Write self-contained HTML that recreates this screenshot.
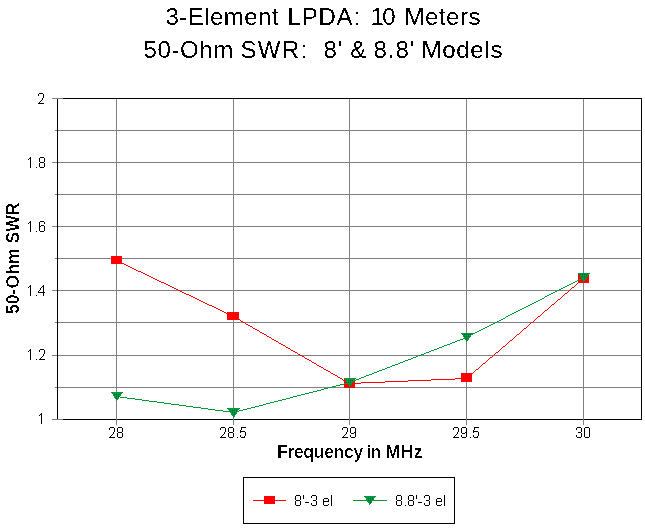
<!DOCTYPE html>
<html>
<head>
<meta charset="utf-8">
<title>3-Element LPDA: 10 Meters - 50-Ohm SWR</title>
<style>
  html, body { margin: 0; padding: 0; background: #ffffff; }
  body { width: 645px; height: 528px; overflow: hidden; position: relative;
         font-family: "Liberation Sans", sans-serif; }
  svg { position: absolute; left: 0; top: 0; display: block; }
  text { font-family: "Liberation Sans", sans-serif; fill: #000000; white-space: pre; }
  .title { font-size: 24px; }
  .axis  { font-size: 17.6px; font-weight: bold; }
  .tick  { font-size: 15px; letter-spacing: -0.3px; }
  .tick text { fill: none; }
</style>
</head>
<body>
<svg width="645" height="528" viewBox="0 0 645 528">
  <defs>
    <filter id="bin" x="0" y="0" width="645" height="528" filterUnits="userSpaceOnUse" color-interpolation-filters="sRGB">
      <feComponentTransfer><feFuncA type="discrete" tableValues="0 1"/></feComponentTransfer>
    </filter>
    <filter id="binb" x="0" y="0" width="645" height="528" filterUnits="userSpaceOnUse" color-interpolation-filters="sRGB">
      <feComponentTransfer><feFuncA type="discrete" tableValues="0 0 0 0 0 0 0 0 0 0 0 0 0 1 1 1 1 1 1 1"/></feComponentTransfer>
    </filter>
    <pattern id="dith" x="0" y="0" width="2" height="2" patternUnits="userSpaceOnUse">
      <rect x="0" y="0" width="2" height="2" fill="#008a3c"/>
      <rect x="0" y="0" width="1" height="1" fill="#006a38"/>
      <rect x="1" y="1" width="1" height="1" fill="#00a068"/>
    </pattern>
  </defs>
  <rect x="0" y="0" width="645" height="528" fill="#ffffff"/>

  <!-- titles -->

  <!-- grid + frame -->
  <g shape-rendering="crispEdges" fill="none" stroke-width="1">
    <!-- horizontal grid lines (with tick stubs to the left) -->
    <g stroke="#808080">
      <line x1="52" y1="98.5"  x2="641" y2="98.5"/>
      <line x1="55" y1="130.5" x2="641" y2="130.5"/>
      <line x1="52" y1="162.5" x2="641" y2="162.5"/>
      <line x1="55" y1="194.5" x2="641" y2="194.5"/>
      <line x1="52" y1="226.5" x2="641" y2="226.5"/>
      <line x1="55" y1="258.5" x2="641" y2="258.5"/>
      <line x1="52" y1="290.5" x2="641" y2="290.5"/>
      <line x1="55" y1="322.5" x2="641" y2="322.5"/>
      <line x1="52" y1="355.5" x2="641" y2="355.5"/>
      <line x1="55" y1="387.5" x2="641" y2="387.5"/>
      <line x1="52" y1="419.5" x2="641" y2="419.5"/>
      <!-- vertical grid lines (with tick stubs below) -->
      <line x1="116.5" y1="98" x2="116.5" y2="425"/>
      <line x1="233.5" y1="98" x2="233.5" y2="425"/>
      <line x1="349.5" y1="98" x2="349.5" y2="425"/>
      <line x1="466.5" y1="98" x2="466.5" y2="425"/>
      <line x1="583.5" y1="98" x2="583.5" y2="425"/>
    </g>
    <!-- black frame -->
    <g stroke="#000000">
      <line x1="63" y1="98.5" x2="642" y2="98.5"/>
      <line x1="63" y1="419.5" x2="642" y2="419.5"/>
      <line x1="57.5" y1="99" x2="57.5" y2="419"/>
      <line x1="641.5" y1="98" x2="641.5" y2="420"/>
    </g>
    <!-- re-draw grey crossings on frame -->
    <g stroke="#808080">
      <line x1="116.5" y1="419" x2="116.5" y2="425"/>
      <line x1="233.5" y1="419" x2="233.5" y2="425"/>
      <line x1="349.5" y1="419" x2="349.5" y2="425"/>
      <line x1="466.5" y1="419" x2="466.5" y2="425"/>
      <line x1="583.5" y1="419" x2="583.5" y2="425"/>
    </g>
  </g>

  <!-- y tick labels -->

  <!-- x tick labels -->

  <!-- axis titles -->

  <!-- data series -->
  <g shape-rendering="crispEdges">
    <!-- red series -->
    <path fill="none" stroke="#ff0000" stroke-width="1" d="M116 260.5h2M118 261.5h2M120 262.5h2M122 263.5h2M124 264.5h2M126 265.5h2M128 266.5h2M130 267.5h2M132 268.5h2M134 269.5h2M136 270.5h2M138 271.5h3M141 272.5h2M143 273.5h2M145 274.5h2M147 275.5h2M149 276.5h2M151 277.5h2M153 278.5h2M155 279.5h2M157 280.5h2M159 281.5h2M161 282.5h3M164 283.5h2M166 284.5h2M168 285.5h2M170 286.5h2M172 287.5h2M174 288.5h2M176 289.5h2M178 290.5h2M180 291.5h2M182 292.5h2M184 293.5h2M186 294.5h3M189 295.5h2M191 296.5h2M193 297.5h2M195 298.5h2M197 299.5h2M199 300.5h2M201 301.5h2M203 302.5h2M205 303.5h2M207 304.5h2M209 305.5h3M212 306.5h2M214 307.5h2M216 308.5h2M218 309.5h2M220 310.5h2M222 311.5h2M224 312.5h2M226 313.5h2M228 314.5h2M230 315.5h2M232 316.5h2M234 317.5h2M236 318.5h2M238 319.5h2M240 320.5h1M241 321.5h2M243 322.5h2M245 323.5h1M246 324.5h2M248 325.5h2M250 326.5h2M252 327.5h1M253 328.5h2M255 329.5h2M257 330.5h2M259 331.5h1M260 332.5h2M262 333.5h2M264 334.5h2M266 335.5h1M267 336.5h2M269 337.5h2M271 338.5h1M272 339.5h2M274 340.5h2M276 341.5h2M278 342.5h1M279 343.5h2M281 344.5h2M283 345.5h2M285 346.5h1M286 347.5h2M288 348.5h2M290 349.5h1M291 350.5h2M293 351.5h2M295 352.5h2M297 353.5h1M298 354.5h2M300 355.5h2M302 356.5h2M304 357.5h1M305 358.5h2M307 359.5h2M309 360.5h2M311 361.5h1M312 362.5h2M314 363.5h2M316 364.5h1M317 365.5h2M319 366.5h2M321 367.5h2M323 368.5h1M324 369.5h2M326 370.5h2M328 371.5h2M330 372.5h1M331 373.5h2M333 374.5h2M335 375.5h2M337 376.5h1M338 377.5h2M340 378.5h2M342 379.5h1M343 380.5h2M345 381.5h2M347 382.5h2M349 383.5h12M361 382.5h24M385 381.5h23M408 380.5h23M431 379.5h24M455 378.5h12M467 377.5h1M468 376.5h1M469 375.5h2M471 374.5h1M472 373.5h1M473 372.5h1M474 371.5h1M475 370.5h1M476 369.5h2M478 368.5h1M479 367.5h1M480 366.5h1M481 365.5h1M482 364.5h1M483 363.5h2M485 362.5h1M486 361.5h1M487 360.5h1M488 359.5h1M489 358.5h1M490 357.5h2M492 356.5h1M493 355.5h1M494 354.5h1M495 353.5h1M496 352.5h2M498 351.5h1M499 350.5h1M500 349.5h1M501 348.5h1M502 347.5h1M503 346.5h2M505 345.5h1M506 344.5h1M507 343.5h1M508 342.5h1M509 341.5h1M510 340.5h2M512 339.5h1M513 338.5h1M514 337.5h1M515 336.5h1M516 335.5h1M517 334.5h2M519 333.5h1M520 332.5h1M521 331.5h1M522 330.5h1M523 329.5h1M524 328.5h2M526 327.5h1M527 326.5h1M528 325.5h1M529 324.5h1M530 323.5h1M531 322.5h2M533 321.5h1M534 320.5h1M535 319.5h1M536 318.5h1M537 317.5h1M538 316.5h2M540 315.5h1M541 314.5h1M542 313.5h1M543 312.5h1M544 311.5h1M545 310.5h2M547 309.5h1M548 308.5h1M549 307.5h1M550 306.5h1M551 305.5h1M552 304.5h2M554 303.5h1M555 302.5h1M556 301.5h1M557 300.5h1M558 299.5h2M560 298.5h1M561 297.5h1M562 296.5h1M563 295.5h1M564 294.5h1M565 293.5h2M567 292.5h1M568 291.5h1M569 290.5h1M570 289.5h1M571 288.5h1M572 287.5h2M574 286.5h1M575 285.5h1M576 284.5h1M577 283.5h1M578 282.5h1M579 281.5h2M581 280.5h1M582 279.5h1M583 278.5h1"/>
    <g fill="#ff0000">
      <rect x="111" y="256" width="11" height="8"/>
      <rect x="227" y="312" width="12" height="8"/>
      <rect x="344" y="379" width="11" height="9"/>
      <rect x="461" y="373" width="11" height="9"/>
      <rect x="578" y="274" width="11" height="9"/>
    </g>
    <!-- green series -->
    <path fill="none" stroke="#009933" stroke-width="1" d="M116 396.5h4M120 397.5h7M127 398.5h8M135 399.5h7M142 400.5h7M149 401.5h8M157 402.5h7M164 403.5h7M171 404.5h8M179 405.5h7M186 406.5h7M193 407.5h8M201 408.5h7M208 409.5h7M215 410.5h8M223 411.5h7M230 412.5h5M235 411.5h4M239 410.5h4M243 409.5h4M247 408.5h4M251 407.5h4M255 406.5h4M259 405.5h4M263 404.5h3M266 403.5h4M270 402.5h4M274 401.5h4M278 400.5h4M282 399.5h4M286 398.5h4M290 397.5h3M293 396.5h4M297 395.5h4M301 394.5h4M305 393.5h4M309 392.5h4M313 391.5h4M317 390.5h4M321 389.5h3M324 388.5h4M328 387.5h4M332 386.5h4M336 385.5h4M340 384.5h4M344 383.5h4M348 382.5h3M351 381.5h2M353 380.5h3M356 379.5h3M359 378.5h2M361 377.5h3M364 376.5h2M366 375.5h3M369 374.5h3M372 373.5h2M374 372.5h3M377 371.5h2M379 370.5h3M382 369.5h3M385 368.5h2M387 367.5h3M390 366.5h2M392 365.5h3M395 364.5h3M398 363.5h2M400 362.5h3M403 361.5h2M405 360.5h3M408 359.5h3M411 358.5h2M413 357.5h3M416 356.5h2M418 355.5h3M421 354.5h3M424 353.5h2M426 352.5h3M429 351.5h2M431 350.5h3M434 349.5h3M437 348.5h2M439 347.5h3M442 346.5h2M444 345.5h3M447 344.5h3M450 343.5h2M452 342.5h3M455 341.5h2M457 340.5h3M460 339.5h3M463 338.5h2M465 337.5h2M467 336.5h2M469 335.5h2M471 334.5h2M473 333.5h2M475 332.5h2M477 331.5h2M479 330.5h2M481 329.5h2M483 328.5h2M485 327.5h2M487 326.5h2M489 325.5h2M491 324.5h2M493 323.5h2M495 322.5h2M497 321.5h2M499 320.5h2M501 319.5h2M503 318.5h2M505 317.5h1M506 316.5h2M508 315.5h2M510 314.5h2M512 313.5h2M514 312.5h2M516 311.5h2M518 310.5h2M520 309.5h2M522 308.5h2M524 307.5h2M526 306.5h2M528 305.5h2M530 304.5h2M532 303.5h2M534 302.5h2M536 301.5h2M538 300.5h2M540 299.5h2M542 298.5h2M544 297.5h1M545 296.5h2M547 295.5h2M549 294.5h2M551 293.5h2M553 292.5h2M555 291.5h2M557 290.5h2M559 289.5h2M561 288.5h2M563 287.5h2M565 286.5h2M567 285.5h2M569 284.5h2M571 283.5h2M573 282.5h2M575 281.5h2M577 280.5h2M579 279.5h2M581 278.5h2M583 277.5h1"/>
    <g>
      <polygon points="111,392 123,392 117,401 116.5,401" fill="#009933"/><polygon points="112.8,393 121.2,393 117.2,399.4 116.8,399.4" fill="url(#dith)"/>
      <polygon points="227,408 240,408 234,418 233.5,418" fill="#009933"/><polygon points="229.8,409 238.2,409 234.2,415.4 233.8,415.4" fill="url(#dith)"/>
      <polygon points="344,378 356,378 350,387 349.5,387" fill="#009933"/><polygon points="345.8,379 354.2,379 350.2,385.4 349.8,385.4" fill="url(#dith)"/>
      <polygon points="461,333 473,333 467,342 466.5,342" fill="#009933"/><polygon points="462.8,334 471.2,334 467.2,340.4 466.8,340.4" fill="url(#dith)"/>
      <polygon points="578,273 590,273 584,282 583.5,282" fill="#009933"/><polygon points="579.8,274 588.2,274 584.2,280.4 583.8,280.4" fill="url(#dith)"/>
    </g>
  </g>

  <!-- legend -->
  <g shape-rendering="crispEdges">
    <rect x="243.5" y="477.5" width="211" height="46" fill="#ffffff" stroke="#000000" stroke-width="1"/>
    <line x1="253" y1="500.5" x2="286" y2="500.5" stroke="#ff0000" stroke-width="1"/>
    <rect x="264" y="496" width="11" height="8" fill="#ff0000"/>
    <line x1="353" y1="500.5" x2="387" y2="500.5" stroke="#009933" stroke-width="1"/>
    <polygon points="364,496 376,496 370,505 369.5,505" fill="#009933"/><polygon points="365.8,497 374.2,497 370.2,503.4 369.8,503.4" fill="url(#dith)"/>
  </g>
  <!-- all text, alpha-thresholded so it renders crisp like the original bitmap text -->
  <g filter="url(#bin)">
  <text class="title" y="25"><tspan x="165.50" textLength="113.00" lengthAdjust="spacing">3-Element</tspan> <tspan x="287.50" textLength="72.60" lengthAdjust="spacing">LPDA:</tspan> <tspan x="370.50" textLength="25.00" lengthAdjust="spacing">10</tspan> <tspan x="404.50" textLength="76.00" lengthAdjust="spacing">Meters</tspan></text>
  <text class="title" y="58"><tspan x="143.50" textLength="89.80" lengthAdjust="spacing">50-Ohm</tspan> <tspan x="240.50" textLength="66.60" lengthAdjust="spacing">SWR:</tspan> <tspan x="323.50" textLength="18.80" lengthAdjust="spacing">8'</tspan> <tspan x="350.30" textLength="17.00" lengthAdjust="spacing">&amp;</tspan> <tspan x="373.50" textLength="40.80" lengthAdjust="spacing">8.8'</tspan> <tspan x="421.50" textLength="81.00" lengthAdjust="spacing">Models</tspan></text>
  <g class="tick" text-anchor="end">
    <text x="45.4" y="103.75">2</text>
    <text x="45.4" y="167.75">1.8</text>
    <text x="45.4" y="231.75">1.6</text>
    <text x="45.4" y="295.75">1.4</text>
    <text x="45.4" y="359.75">1.2</text>
    <text x="45.4" y="423.75">1</text>
  </g>
  <g class="tick" text-anchor="middle">
    <text x="116.5" y="437.75">28</text>
    <text x="233.5" y="437.75">28.5</text>
    <text x="349.5" y="437.75">29</text>
    <text x="466.5" y="437.75">29.5</text>
    <text x="583.5" y="437.75">30</text>
  </g>
  <g class="tick">
    <text x="294" y="505.75">8'-3 el</text>
    <text x="395" y="505.75">8.8'-3 el</text>
  </g>
  </g>
  <g filter="url(#binb)">
  <text class="axis" y="458"><tspan x="277" textLength="86.2" lengthAdjust="spacing">Frequency</tspan><tspan x="362"> </tspan><tspan x="366.7" textLength="14.6" lengthAdjust="spacing">in</tspan><tspan x="381"> </tspan><tspan x="385.4" textLength="37.2" lengthAdjust="spacing">MHz</tspan></text>
  <text class="axis" transform="translate(19,314) rotate(-90)" x="0" y="0" textLength="111.5" lengthAdjust="spacing">50-Ohm SWR</text>
  </g>
  <!-- tick / legend labels drawn as the original 1-bit bitmap glyphs -->
  <path id="bitmap-labels" shape-rendering="crispEdges" fill="#000000" d="M39 93h4v1h-4zM38 94h1v1h-1zM43 94h1v1h-1zM38 95h1v1h-1zM43 95h1v1h-1zM43 96h1v1h-1zM43 97h1v1h-1zM42 98h1v1h-1zM42 99h1v1h-1zM41 100h1v1h-1zM40 101h1v1h-1zM39 102h1v1h-1zM38 103h6v1h-6zM30 157h1v1h-1zM29 158h2v1h-2zM28 159h1v1h-1zM30 159h1v1h-1zM30 160h1v1h-1zM30 161h1v1h-1zM30 162h1v1h-1zM30 163h1v1h-1zM30 164h1v1h-1zM30 165h1v1h-1zM30 166h1v1h-1zM30 167h1v1h-1zM36 167h1v1h-1zM40 157h4v1h-4zM39 158h1v1h-1zM44 158h1v1h-1zM39 159h1v1h-1zM44 159h1v1h-1zM39 160h1v1h-1zM44 160h1v1h-1zM39 161h1v1h-1zM44 161h1v1h-1zM40 162h4v1h-4zM39 163h1v1h-1zM44 163h1v1h-1zM39 164h1v1h-1zM44 164h1v1h-1zM39 165h1v1h-1zM44 165h1v1h-1zM39 166h1v1h-1zM44 166h1v1h-1zM40 167h4v1h-4zM30 221h1v1h-1zM29 222h2v1h-2zM28 223h1v1h-1zM30 223h1v1h-1zM30 224h1v1h-1zM30 225h1v1h-1zM30 226h1v1h-1zM30 227h1v1h-1zM30 228h1v1h-1zM30 229h1v1h-1zM30 230h1v1h-1zM30 231h1v1h-1zM36 231h1v1h-1zM40 221h4v1h-4zM39 222h1v1h-1zM44 222h1v1h-1zM39 223h1v1h-1zM44 223h1v1h-1zM39 224h1v1h-1zM39 225h1v1h-1zM41 225h3v1h-3zM39 226h2v1h-2zM44 226h1v1h-1zM39 227h1v1h-1zM44 227h1v1h-1zM39 228h1v1h-1zM44 228h1v1h-1zM39 229h1v1h-1zM44 229h1v1h-1zM39 230h1v1h-1zM44 230h1v1h-1zM40 231h4v1h-4zM30 285h1v1h-1zM29 286h2v1h-2zM28 287h1v1h-1zM30 287h1v1h-1zM30 288h1v1h-1zM30 289h1v1h-1zM30 290h1v1h-1zM30 291h1v1h-1zM30 292h1v1h-1zM30 293h1v1h-1zM30 294h1v1h-1zM30 295h1v1h-1zM36 295h1v1h-1zM43 285h1v1h-1zM42 286h2v1h-2zM41 287h1v1h-1zM43 287h1v1h-1zM40 288h1v1h-1zM43 288h1v1h-1zM40 289h1v1h-1zM43 289h1v1h-1zM39 290h1v1h-1zM43 290h1v1h-1zM38 291h1v1h-1zM43 291h1v1h-1zM38 292h7v1h-7zM43 293h1v1h-1zM43 294h1v1h-1zM43 295h1v1h-1zM30 349h1v1h-1zM29 350h2v1h-2zM28 351h1v1h-1zM30 351h1v1h-1zM30 352h1v1h-1zM30 353h1v1h-1zM30 354h1v1h-1zM30 355h1v1h-1zM30 356h1v1h-1zM30 357h1v1h-1zM30 358h1v1h-1zM30 359h1v1h-1zM36 359h1v1h-1zM40 349h4v1h-4zM39 350h1v1h-1zM44 350h1v1h-1zM39 351h1v1h-1zM44 351h1v1h-1zM44 352h1v1h-1zM44 353h1v1h-1zM43 354h1v1h-1zM43 355h1v1h-1zM42 356h1v1h-1zM41 357h1v1h-1zM40 358h1v1h-1zM39 359h6v1h-6zM41 413h1v1h-1zM40 414h2v1h-2zM39 415h1v1h-1zM41 415h1v1h-1zM41 416h1v1h-1zM41 417h1v1h-1zM41 418h1v1h-1zM41 419h1v1h-1zM41 420h1v1h-1zM41 421h1v1h-1zM41 422h1v1h-1zM41 423h1v1h-1zM110 427h4v1h-4zM109 428h1v1h-1zM114 428h1v1h-1zM109 429h1v1h-1zM114 429h1v1h-1zM114 430h1v1h-1zM114 431h1v1h-1zM113 432h1v1h-1zM113 433h1v1h-1zM112 434h1v1h-1zM111 435h1v1h-1zM110 436h1v1h-1zM109 437h6v1h-6zM118 427h4v1h-4zM117 428h1v1h-1zM122 428h1v1h-1zM117 429h1v1h-1zM122 429h1v1h-1zM117 430h1v1h-1zM122 430h1v1h-1zM117 431h1v1h-1zM122 431h1v1h-1zM118 432h4v1h-4zM117 433h1v1h-1zM122 433h1v1h-1zM117 434h1v1h-1zM122 434h1v1h-1zM117 435h1v1h-1zM122 435h1v1h-1zM117 436h1v1h-1zM122 436h1v1h-1zM118 437h4v1h-4zM221 427h4v1h-4zM220 428h1v1h-1zM225 428h1v1h-1zM220 429h1v1h-1zM225 429h1v1h-1zM225 430h1v1h-1zM225 431h1v1h-1zM224 432h1v1h-1zM224 433h1v1h-1zM223 434h1v1h-1zM222 435h1v1h-1zM221 436h1v1h-1zM220 437h6v1h-6zM229 427h4v1h-4zM228 428h1v1h-1zM233 428h1v1h-1zM228 429h1v1h-1zM233 429h1v1h-1zM228 430h1v1h-1zM233 430h1v1h-1zM228 431h1v1h-1zM233 431h1v1h-1zM229 432h4v1h-4zM228 433h1v1h-1zM233 433h1v1h-1zM228 434h1v1h-1zM233 434h1v1h-1zM228 435h1v1h-1zM233 435h1v1h-1zM228 436h1v1h-1zM233 436h1v1h-1zM229 437h4v1h-4zM237 437h1v1h-1zM241 427h5v1h-5zM241 428h1v1h-1zM241 429h1v1h-1zM240 430h1v1h-1zM240 431h5v1h-5zM240 432h1v1h-1zM245 432h1v1h-1zM245 433h1v1h-1zM245 434h1v1h-1zM240 435h1v1h-1zM245 435h1v1h-1zM240 436h1v1h-1zM244 436h1v1h-1zM241 437h4v1h-4zM343 427h4v1h-4zM342 428h1v1h-1zM347 428h1v1h-1zM342 429h1v1h-1zM347 429h1v1h-1zM347 430h1v1h-1zM347 431h1v1h-1zM346 432h1v1h-1zM346 433h1v1h-1zM345 434h1v1h-1zM344 435h1v1h-1zM343 436h1v1h-1zM342 437h6v1h-6zM351 427h4v1h-4zM350 428h1v1h-1zM355 428h1v1h-1zM350 429h1v1h-1zM355 429h1v1h-1zM350 430h1v1h-1zM355 430h1v1h-1zM350 431h1v1h-1zM355 431h1v1h-1zM350 432h1v1h-1zM354 432h2v1h-2zM351 433h3v1h-3zM355 433h1v1h-1zM355 434h1v1h-1zM350 435h1v1h-1zM355 435h1v1h-1zM350 436h1v1h-1zM355 436h1v1h-1zM351 437h4v1h-4zM454 427h4v1h-4zM453 428h1v1h-1zM458 428h1v1h-1zM453 429h1v1h-1zM458 429h1v1h-1zM458 430h1v1h-1zM458 431h1v1h-1zM457 432h1v1h-1zM457 433h1v1h-1zM456 434h1v1h-1zM455 435h1v1h-1zM454 436h1v1h-1zM453 437h6v1h-6zM462 427h4v1h-4zM461 428h1v1h-1zM466 428h1v1h-1zM461 429h1v1h-1zM466 429h1v1h-1zM461 430h1v1h-1zM466 430h1v1h-1zM461 431h1v1h-1zM466 431h1v1h-1zM461 432h1v1h-1zM465 432h2v1h-2zM462 433h3v1h-3zM466 433h1v1h-1zM466 434h1v1h-1zM461 435h1v1h-1zM466 435h1v1h-1zM461 436h1v1h-1zM466 436h1v1h-1zM462 437h4v1h-4zM470 437h1v1h-1zM474 427h5v1h-5zM474 428h1v1h-1zM474 429h1v1h-1zM473 430h1v1h-1zM473 431h5v1h-5zM473 432h1v1h-1zM478 432h1v1h-1zM478 433h1v1h-1zM478 434h1v1h-1zM473 435h1v1h-1zM478 435h1v1h-1zM473 436h1v1h-1zM477 436h1v1h-1zM474 437h4v1h-4zM577 427h4v1h-4zM576 428h1v1h-1zM581 428h1v1h-1zM576 429h1v1h-1zM581 429h1v1h-1zM581 430h1v1h-1zM581 431h1v1h-1zM578 432h3v1h-3zM581 433h1v1h-1zM581 434h1v1h-1zM576 435h1v1h-1zM581 435h1v1h-1zM576 436h1v1h-1zM581 436h1v1h-1zM577 437h4v1h-4zM585 427h4v1h-4zM584 428h1v1h-1zM589 428h1v1h-1zM584 429h1v1h-1zM589 429h1v1h-1zM584 430h1v1h-1zM589 430h1v1h-1zM584 431h1v1h-1zM589 431h1v1h-1zM584 432h1v1h-1zM589 432h1v1h-1zM584 433h1v1h-1zM589 433h1v1h-1zM584 434h1v1h-1zM589 434h1v1h-1zM584 435h1v1h-1zM589 435h1v1h-1zM584 436h1v1h-1zM589 436h1v1h-1zM585 437h4v1h-4zM296 495h4v1h-4zM295 496h1v1h-1zM300 496h1v1h-1zM295 497h1v1h-1zM300 497h1v1h-1zM295 498h1v1h-1zM300 498h1v1h-1zM295 499h1v1h-1zM300 499h1v1h-1zM296 500h4v1h-4zM295 501h1v1h-1zM300 501h1v1h-1zM295 502h1v1h-1zM300 502h1v1h-1zM295 503h1v1h-1zM300 503h1v1h-1zM295 504h1v1h-1zM300 504h1v1h-1zM296 505h4v1h-4zM303 495h1v1h-1zM303 496h1v1h-1zM303 497h1v1h-1zM303 498h1v1h-1zM305 502h4v1h-4zM312 495h4v1h-4zM311 496h1v1h-1zM316 496h1v1h-1zM311 497h1v1h-1zM316 497h1v1h-1zM316 498h1v1h-1zM316 499h1v1h-1zM313 500h3v1h-3zM316 501h1v1h-1zM316 502h1v1h-1zM311 503h1v1h-1zM316 503h1v1h-1zM311 504h1v1h-1zM316 504h1v1h-1zM312 505h4v1h-4zM324 498h4v1h-4zM323 499h1v1h-1zM328 499h1v1h-1zM323 500h1v1h-1zM328 500h1v1h-1zM323 501h6v1h-6zM323 502h1v1h-1zM323 503h1v1h-1zM323 504h1v1h-1zM328 504h1v1h-1zM324 505h4v1h-4zM331 495h1v1h-1zM331 496h1v1h-1zM331 497h1v1h-1zM331 498h1v1h-1zM331 499h1v1h-1zM331 500h1v1h-1zM331 501h1v1h-1zM331 502h1v1h-1zM331 503h1v1h-1zM331 504h1v1h-1zM331 505h1v1h-1zM397 495h4v1h-4zM396 496h1v1h-1zM401 496h1v1h-1zM396 497h1v1h-1zM401 497h1v1h-1zM396 498h1v1h-1zM401 498h1v1h-1zM396 499h1v1h-1zM401 499h1v1h-1zM397 500h4v1h-4zM396 501h1v1h-1zM401 501h1v1h-1zM396 502h1v1h-1zM401 502h1v1h-1zM396 503h1v1h-1zM401 503h1v1h-1zM396 504h1v1h-1zM401 504h1v1h-1zM397 505h4v1h-4zM405 505h1v1h-1zM409 495h4v1h-4zM408 496h1v1h-1zM413 496h1v1h-1zM408 497h1v1h-1zM413 497h1v1h-1zM408 498h1v1h-1zM413 498h1v1h-1zM408 499h1v1h-1zM413 499h1v1h-1zM409 500h4v1h-4zM408 501h1v1h-1zM413 501h1v1h-1zM408 502h1v1h-1zM413 502h1v1h-1zM408 503h1v1h-1zM413 503h1v1h-1zM408 504h1v1h-1zM413 504h1v1h-1zM409 505h4v1h-4zM416 495h1v1h-1zM416 496h1v1h-1zM416 497h1v1h-1zM416 498h1v1h-1zM418 502h4v1h-4zM425 495h4v1h-4zM424 496h1v1h-1zM429 496h1v1h-1zM424 497h1v1h-1zM429 497h1v1h-1zM429 498h1v1h-1zM429 499h1v1h-1zM426 500h3v1h-3zM429 501h1v1h-1zM429 502h1v1h-1zM424 503h1v1h-1zM429 503h1v1h-1zM424 504h1v1h-1zM429 504h1v1h-1zM425 505h4v1h-4zM437 498h4v1h-4zM436 499h1v1h-1zM441 499h1v1h-1zM436 500h1v1h-1zM441 500h1v1h-1zM436 501h6v1h-6zM436 502h1v1h-1zM436 503h1v1h-1zM436 504h1v1h-1zM441 504h1v1h-1zM437 505h4v1h-4zM444 495h1v1h-1zM444 496h1v1h-1zM444 497h1v1h-1zM444 498h1v1h-1zM444 499h1v1h-1zM444 500h1v1h-1zM444 501h1v1h-1zM444 502h1v1h-1zM444 503h1v1h-1zM444 504h1v1h-1zM444 505h1v1h-1z"/>
</svg>
</body>
</html>
